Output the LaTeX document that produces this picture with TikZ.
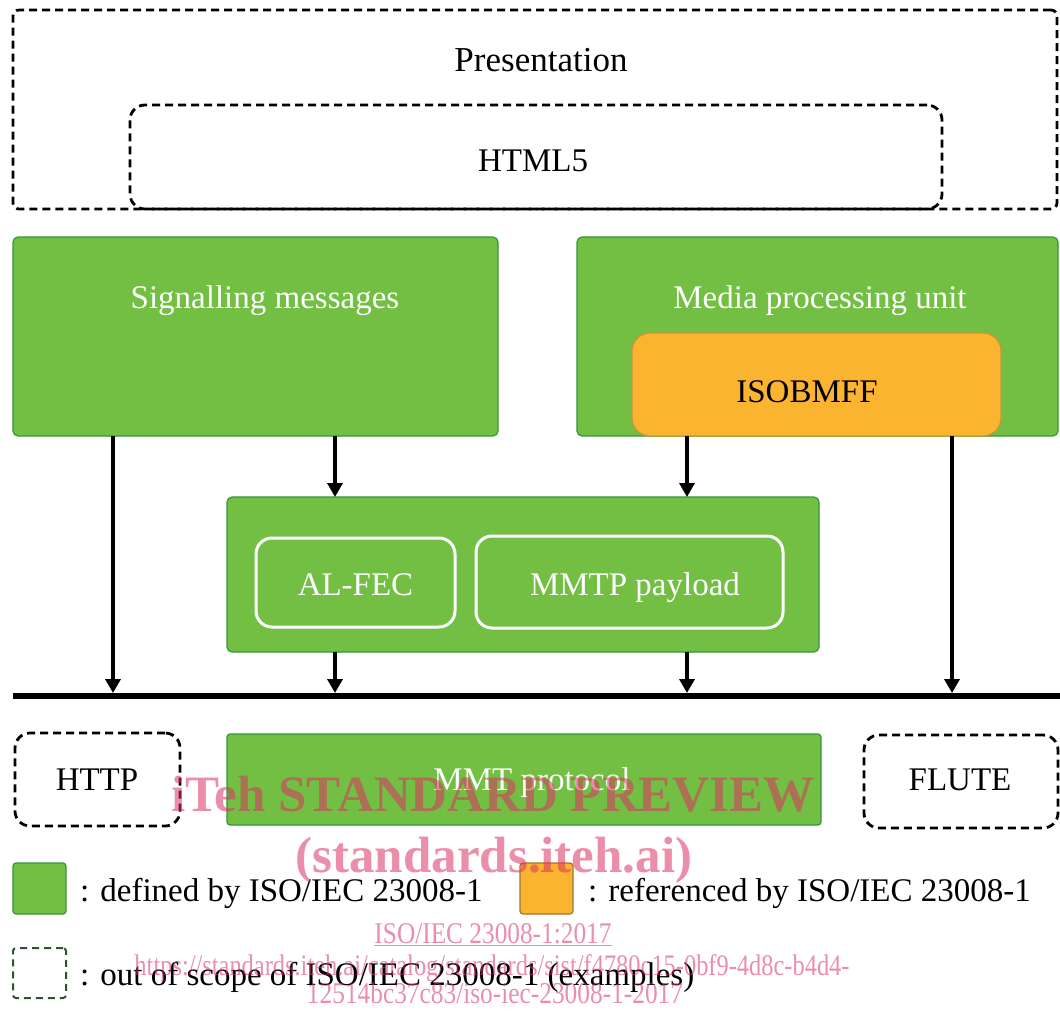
\documentclass[tikz,border=0pt]{standalone}
\usepackage{fontspec}
\setmainfont{Liberation Serif}
\usetikzlibrary{arrows.meta}
\definecolor{grn}{RGB}{114,191,68}
\definecolor{grnline}{RGB}{52,150,58}
\definecolor{org}{RGB}{251,180,48}
\definecolor{orgline}{RGB}{200,150,55}
\definecolor{legdash}{RGB}{45,85,45}
\definecolor{wmred}{RGB}{220,50,100}
\begin{document}
\begin{tikzpicture}[x=1pt,y=-1pt,
  font=\fontsize{33}{40}\selectfont,
  greenbox/.style={draw=grnline, line width=1.2pt, fill=grn, rounded corners=5pt, inner sep=0pt, outer sep=0pt},
  orangebox/.style={draw=orgline, line width=1.2pt, fill=org, rounded corners=18pt, inner sep=0pt, outer sep=0pt},
  innerbox/.style={draw=white, line width=3pt, fill=grn, rounded corners=16pt, inner sep=0pt, outer sep=0pt},
  dashbox/.style={draw=black, line width=2.8pt, dash pattern=on 8pt off 5pt, rounded corners=15pt, inner sep=0pt, outer sep=0pt},
  lbl/.style={anchor=base, inner sep=0pt},
  wlbl/.style={lbl, text=white},
  arr/.style={line width=3.6pt, -{Triangle[width=15pt,length=14pt]}},
  bus/.style={line width=6pt},
  legtext/.style={anchor=base west, inner sep=0pt},
  wm/.style={text=wmred, opacity=0.55, anchor=base, inner sep=0pt}]

\fill[white] (0,0) rectangle (1060,1010);
\useasboundingbox (0,0) rectangle (1060,1010);

% Presentation layer
\node[dashbox, rounded corners=6pt, minimum width=1044pt, minimum height=199pt] (pres) at (535,109.5) {};
\node[lbl] (prestxt) at (541,71) {\fontsize{35}{40}\selectfont Presentation};
\node[dashbox, minimum width=812pt, minimum height=104pt] (html) at (536,157) {};
\node[lbl] (htmltxt) at (533,171) {HTML5};

% Upper green boxes
\node[greenbox, minimum width=485pt, minimum height=199pt] (sig) at (255.5,336.5) {};
\node[wlbl] (sigtxt) at (265,308) {Signalling messages};
\node[greenbox, minimum width=481pt, minimum height=199pt] (mpu) at (817.5,336.5) {};
\node[wlbl] (mputxt) at (820,308) {Media processing unit};
\node[orangebox, minimum width=369pt, minimum height=103pt] (iso) at (816.5,384.5) {};
\node[lbl] (isotxt) at (807,402) {ISOBMFF};

% Middle box
\node[greenbox, minimum width=592pt, minimum height=155pt] (mid) at (523,574.5) {};
\node[innerbox, minimum width=199pt, minimum height=89pt] (alfec) at (355.5,582.5) {};
\node[wlbl] (alfectxt) at (355.5,595) {AL-FEC};
\node[innerbox, minimum width=307pt, minimum height=92pt] (mmtp) at (629.5,582) {};
\node[wlbl] (mmtptxt) at (635,595) {MMTP payload};

% Bus
\coordinate (busL) at (13,696);
\coordinate (busR) at (1060,696);
\draw[bus] (busL) -- (busR);
\coordinate (b1) at (113,693);
\coordinate (b2) at (335,693);
\coordinate (b3) at (687,693);
\coordinate (b4) at (952,693);

% Arrows
\draw[arr] (sig.south -| b1) -- (b1);
\draw[arr] (sig.south -| b2) -- (mid.north -| b2);
\draw[arr] (mpu.south -| b3) -- (mid.north -| b3);
\draw[arr] (mpu.south -| b4) -- (b4);
\draw[arr] (mid.south -| b2) -- (b2);
\draw[arr] (mid.south -| b3) -- (b3);

% Lower row
\node[dashbox, minimum width=165pt, minimum height=93pt] (http) at (97.5,779.5) {};
\node[lbl] (httptxt) at (97,790) {HTTP};
\node[greenbox, rounded corners=3pt, minimum width=594pt, minimum height=91pt] (mmt) at (524,779.5) {};
\node[wlbl] (mmttxt) at (532,790) {MMT protocol};
\node[dashbox, minimum width=194pt, minimum height=93pt] (flute) at (961,781.5) {};
\node[lbl] (flutetxt) at (960,790) {FLUTE};

% Legend
\node[greenbox, rounded corners=3pt, minimum width=53pt, minimum height=51pt] (lg1) at (39.5,888.5) {};
\node[legtext] (lt1) at (80,901) {: defined by ISO/IEC 23008-1};
\node[orangebox, draw=orgline!80!black, rounded corners=3pt, minimum width=53pt, minimum height=51pt] (lg2) at (546.5,888.5) {};
\node[legtext] (lt2) at (588,901) {: referenced by ISO/IEC 23008-1};
\node[dashbox, draw=legdash, line width=2pt, dash pattern=on 7pt off 5pt, rounded corners=3pt, minimum width=53pt, minimum height=50pt] (lg3) at (39.5,973) {};
\node[legtext] (lt3) at (80,985) {: out of scope of ISO/IEC 23008-1 (examples)};

% Watermark
\node[wm] (wm1) at (493,811) {\fontsize{51}{56}\selectfont\bfseries iTeh STANDARD PREVIEW};
\node[wm] (wm2) at (494,872) {\fontsize{51}{56}\selectfont\bfseries (standards.iteh.ai)};
\node[wm] (wm3) at (493,943) {\resizebox{237pt}{20pt}{\fontsize{30}{34}\selectfont\underline{ISO/IEC 23008-1:2017}}};
\node[wm] (wm4) at (492,975) {\resizebox{715pt}{21pt}{\fontsize{30}{34}\selectfont https://standards.iteh.ai/catalog/standards/sist/f4780c15-0bf9-4d8c-b4d4-}};
\node[wm] (wm5) at (495,1003) {\resizebox{376pt}{21pt}{\fontsize{30}{34}\selectfont 12514bc37c83/iso-iec-23008-1-2017}};
\end{tikzpicture}
\end{document}
